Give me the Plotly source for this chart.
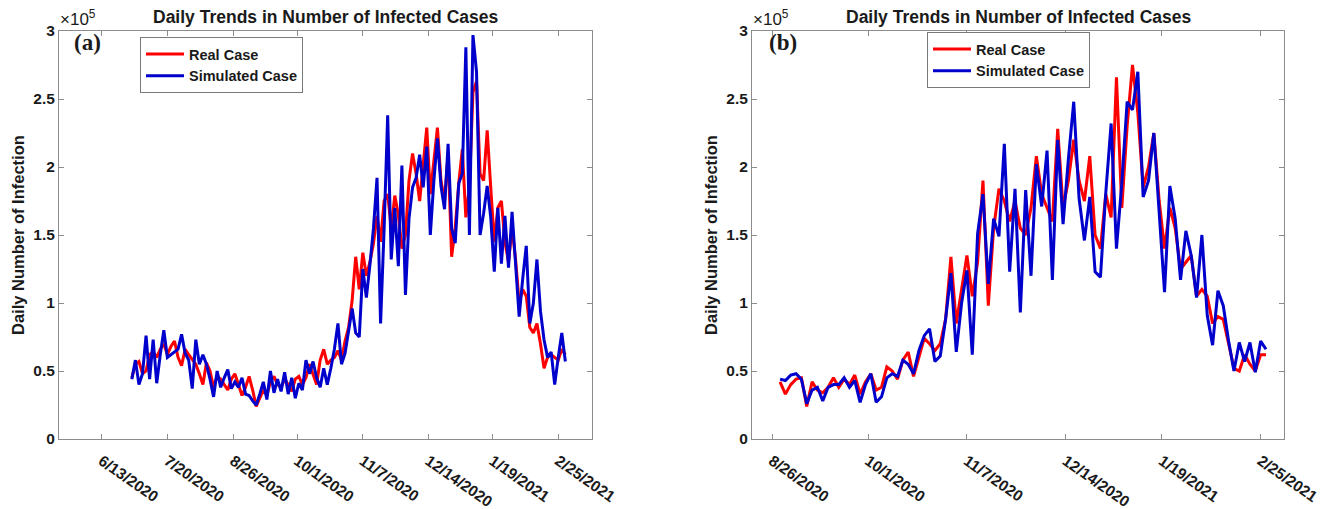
import pandas as pd
import plotly.graph_objects as go

# ---------------- data (daily infections, in units of 10^5), sampled every 2 days ----------------
start_a = "2020-06-30"
real_a = [0.45,0.55,0.57,0.48,0.50,0.62,0.64,0.60,0.66,0.70,
          0.62,0.68,0.72,0.60,0.54,0.66,0.62,0.58,0.55,0.48,
          0.40,0.56,0.50,0.38,0.46,0.44,0.40,0.36,0.44,0.48,
          0.40,0.32,0.38,0.46,0.36,0.24,0.30,0.36,0.32,0.42,
          0.46,0.40,0.38,0.44,0.40,0.35,0.44,0.46,0.40,0.45,
          0.55,0.48,0.40,0.58,0.66,0.55,0.58,0.60,0.65,0.58,
          0.72,0.82,1.02,1.34,1.10,1.37,1.20,1.30,1.44,1.64,
          1.45,1.75,1.80,1.55,1.79,1.65,1.40,1.50,1.90,2.10,
          1.95,1.75,2.05,2.29,1.80,2.05,2.29,1.90,1.75,2.10,
          1.34,1.55,1.88,2.13,1.63,1.85,2.55,2.63,1.95,1.90,
          2.27,1.85,1.45,1.70,1.75,1.45,1.30,1.55,1.32,1.00,
          1.10,1.05,0.82,0.78,0.85,0.70,0.52,0.60,0.62,0.60,
          0.58,0.66,0.62]
sim_a = [0.44,0.58,0.40,0.48,0.76,0.44,0.73,0.41,0.62,0.80,
         0.60,0.62,0.64,0.66,0.77,0.63,0.58,0.37,0.73,0.55,
         0.62,0.55,0.44,0.31,0.50,0.38,0.45,0.51,0.37,0.42,
         0.38,0.45,0.33,0.32,0.28,0.25,0.33,0.42,0.29,0.50,
         0.34,0.44,0.35,0.49,0.33,0.45,0.30,0.41,0.36,0.58,
         0.48,0.57,0.45,0.38,0.52,0.40,0.52,0.66,0.85,0.55,
         0.63,0.80,0.96,0.78,0.75,1.25,1.04,1.28,1.55,1.92,
         0.85,1.55,2.38,1.32,1.70,1.27,2.01,1.06,1.62,1.85,
         1.92,2.09,1.85,2.15,1.50,1.90,2.21,1.86,1.69,2.17,
         1.55,1.44,1.88,1.95,2.88,1.50,2.97,2.70,1.50,1.66,
         1.86,1.63,1.23,1.70,1.29,1.64,1.26,1.67,1.32,0.90,
         1.18,1.42,0.85,1.00,1.32,0.94,0.73,0.60,0.64,0.40,
         0.60,0.78,0.57]

start_b = "2020-08-29"
real_b = [0.42,0.33,0.40,0.44,0.45,0.24,0.42,0.36,0.34,0.38,
          0.45,0.38,0.44,0.40,0.47,0.33,0.42,0.48,0.36,0.38,
          0.53,0.50,0.44,0.58,0.64,0.46,0.60,0.74,0.70,0.65,
          0.70,0.88,1.34,0.85,1.10,1.35,1.05,1.30,1.90,0.98,
          1.55,1.84,1.75,1.60,1.75,1.55,1.50,1.70,2.08,1.80,
          1.70,1.60,2.28,1.70,1.90,2.20,1.90,1.75,2.08,1.50,
          1.40,1.80,1.63,2.66,1.70,2.30,2.75,2.40,1.85,2.00,
          2.25,1.75,1.40,1.70,1.55,1.25,1.30,1.35,1.05,1.10,
          1.05,0.85,0.90,0.88,0.70,0.52,0.50,0.62,0.55,0.50,
          0.62,0.62]
sim_b = [0.44,0.43,0.47,0.48,0.44,0.26,0.36,0.38,0.28,0.38,
         0.40,0.40,0.45,0.38,0.43,0.27,0.40,0.48,0.27,0.31,
         0.45,0.48,0.46,0.58,0.55,0.48,0.65,0.76,0.81,0.57,
         0.61,0.88,1.22,0.64,1.00,1.24,0.62,1.51,1.80,1.14,
         1.62,1.49,2.17,1.23,1.84,0.93,1.83,1.20,2.02,1.71,
         2.12,1.17,2.20,1.58,2.06,2.48,1.77,1.46,1.78,1.23,
         1.19,1.81,2.32,1.40,1.88,2.48,2.42,2.70,1.78,1.90,
         2.25,1.70,1.08,1.86,1.62,1.17,1.53,1.35,1.04,1.50,
         0.91,0.69,1.09,0.98,0.72,0.50,0.71,0.57,0.71,0.49,
         0.72,0.66]

ticks_a = ["2020-06-13","2020-07-20","2020-08-26","2020-10-01","2020-11-07","2020-12-14","2021-01-19","2021-02-25"]
ticklabels_a = ["6/13/2020","7/20/2020","8/26/2020","10/1/2020","11/7/2020","12/14/2020","1/19/2021","2/25/2021"]
ticks_b = ["2020-08-26","2020-10-01","2020-11-07","2020-12-14","2021-01-19","2021-02-25"]
ticklabels_b = ["8/26/2020","10/1/2020","11/7/2020","12/14/2020","1/19/2021","2/25/2021"]
yticks = [0, 0.5, 1, 1.5, 2, 2.5, 3]
yticklabels = ["0", "0.5", "1", "1.5", "2", "2.5", "3"]

x_a = pd.date_range(start_a, periods=len(real_a), freq="2D")
x_b = pd.date_range(start_b, periods=len(real_b), freq="2D")

RED = "rgb(255,0,0)"
BLUE = "rgb(0,0,205)"
FONT = "Arial, 'Liberation Sans', Helvetica, sans-serif"
TXT = "#1a1a1a"

fig = go.Figure()
fig.add_trace(go.Scatter(x=x_a, y=real_a, mode="lines", name="Real Case",
                         line=dict(color=RED, width=3), xaxis="x", yaxis="y", legend="legend"))
fig.add_trace(go.Scatter(x=x_a, y=sim_a, mode="lines", name="Simulated Case",
                         line=dict(color=BLUE, width=3), xaxis="x", yaxis="y", legend="legend"))
fig.add_trace(go.Scatter(x=x_b, y=real_b, mode="lines", name="Real Case",
                         line=dict(color=RED, width=3), xaxis="x2", yaxis="y2", legend="legend2"))
fig.add_trace(go.Scatter(x=x_b, y=sim_b, mode="lines", name="Simulated Case",
                         line=dict(color=BLUE, width=3), xaxis="x2", yaxis="y2", legend="legend2"))

W, H = 1330, 509
def px(x): return x / W
def py(y): return 1 - y / H

axis_common = dict(showline=True, linecolor="#8c8c8c", linewidth=1, mirror="ticks",
                   ticks="inside", ticklen=5, tickcolor="#8c8c8c", showgrid=False, zeroline=False,
                   automargin=False,
                   tickfont=dict(family=FONT, size=15.5, color=TXT, weight="bold"))

xa = dict(axis_common, domain=[px(59), px(592)], range=["2020-05-20", "2021-03-16"],
          tickmode="array", tickvals=ticks_a, ticktext=ticklabels_a, tickangle=35,
          ticklabelstandoff=6, anchor="y")
xb = dict(axis_common, domain=[px(752), px(1284)], range=["2020-08-18 12:00", "2021-03-05 18:00"],
          tickmode="array", tickvals=ticks_b, ticktext=ticklabels_b, tickangle=35,
          ticklabelstandoff=6, anchor="y2")
ya = dict(axis_common, domain=[py(439), py(31)], range=[0, 3], tickmode="array",
          tickvals=yticks, ticktext=yticklabels, anchor="x")
yb = dict(axis_common, domain=[py(439), py(31)], range=[0, 3], tickmode="array",
          tickvals=yticks, ticktext=yticklabels, anchor="x2")

legend_common = dict(bgcolor="white", bordercolor="#7a7a7a", borderwidth=1,
                     font=dict(family=FONT, size=14.5, color=TXT, weight="bold"),
                     xanchor="left", yanchor="top", tracegroupgap=0, itemwidth=38)

fig.update_layout(
    width=W, height=H, margin=dict(l=0, r=0, t=0, b=0, autoexpand=False),
    plot_bgcolor="white", paper_bgcolor="white",
    xaxis=xa, yaxis=ya, xaxis2=xb, yaxis2=yb,
    legend=dict(legend_common, x=px(140), y=py(37)),
    legend2=dict(legend_common, x=px(927), y=py(32)),
    showlegend=True,
)

annotations = []
for cx, lab, x0, ytx in [((59 + 592) / 2, "(a)", 72, 18), ((752 + 1284) / 2, "(b)", 767, 711)]:
    annotations.append(dict(text="<b>Daily Trends in Number of Infected Cases</b>", x=px(cx), y=py(17),
                            xref="paper", yref="paper", showarrow=False, xanchor="center", yanchor="middle",
                            font=dict(family=FONT, size=17.5, color=TXT)))
    annotations.append(dict(text="<b>" + lab + "</b>", x=px(x0), y=py(43), xref="paper", yref="paper",
                            showarrow=False, xanchor="left", yanchor="middle",
                            font=dict(family="'Liberation Serif', 'Times New Roman', serif", size=23, color=TXT)))
    annotations.append(dict(text="<b>Daily Number of Infection</b>", x=px(ytx), y=py(235), xref="paper", yref="paper",
                            showarrow=False, xanchor="center", yanchor="middle", textangle=-90,
                            font=dict(family=FONT, size=16.5, color=TXT)))
for x0 in [58, 751]:
    annotations.append(dict(text="\u00d710<sup>5</sup>", x=px(x0), y=py(18), xref="paper", yref="paper",
                            showarrow=False, xanchor="left", yanchor="middle",
                            font=dict(family=FONT, size=17, color=TXT)))
fig.update_layout(annotations=annotations)

fig.write_html("out.html")
